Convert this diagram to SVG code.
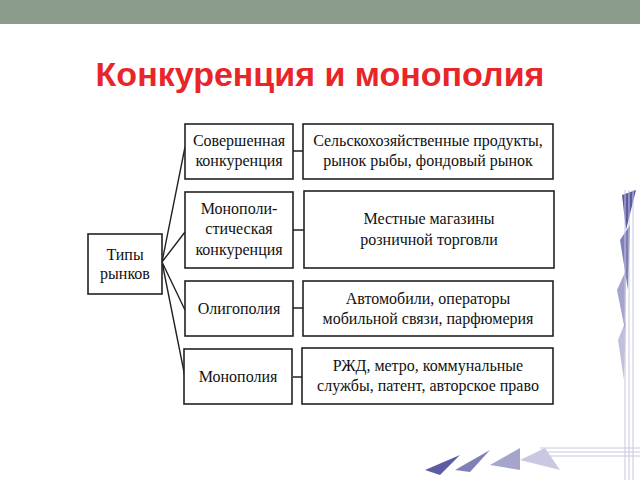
<svg xmlns="http://www.w3.org/2000/svg" width="640" height="480" viewBox="0 0 640 480">
<style>
.b{fill:#fff;stroke:#222;stroke-width:1.6}
.t{font-family:'Liberation Serif','DejaVu Serif','Times New Roman',serif;font-size:16px;fill:#111;text-anchor:middle}
.c{stroke:#222;stroke-width:1.4;fill:none}
.d{fill:#4a4a9a}
.l{stroke:#c8c8e0;stroke-width:1;fill:none}
</style>
<rect width="640" height="480" fill="#fff"/>
<rect width="640" height="24" fill="#8c9c8c"/>
<text x="320" y="86" font-family="Liberation Sans,sans-serif" font-weight="bold" font-size="34" fill="#e8262a" text-anchor="middle">Конкуренция и монополия</text>
<g id="decor">
<polygon class="d" points="622,195 636,190 626,230" opacity="0.9"/>
<polygon class="d" points="620,240 630,225 628,290" opacity="0.7"/>
<polygon class="d" points="617,290 626,270 625,330" opacity="0.5"/>
<polygon class="d" points="618,340 626,320 624,380" opacity="0.35"/>
<polygon class="d" points="425,470 460,455 440,475" opacity="0.9"/>
<polygon class="d" points="455,470 490,450 470,472" opacity="0.7"/>
<polygon class="d" points="490,465 520,448 520,470" opacity="0.5"/>
<polygon class="d" points="520,460 545,448 560,470" opacity="0.3"/>
<path class="l" d="M540,448H640M540,452H640M540,456H640M625,190V480M629,190V480M633,190V480"/>
</g>
<g id="connectors" class="c">
<path d="M162,262L185,147M162,262L185,232M162,262L185,310M162,262L185,377"/>
<path d="M293,151H303M293,230H304M293,308H303M293,377H303"/>
</g>
<g id="types"><rect class="b" x="88" y="234" width="74" height="60"/><text class="t" x="125" y="260">Типы</text><text class="t" x="125" y="279">рынков</text></g>
<g id="n1"><rect class="b" x="185" y="124" width="108" height="55"/><text class="t" x="239" y="146">Совершенная</text><text class="t" x="239" y="166">конкуренция</text></g>
<g id="n2"><rect class="b" x="185" y="192" width="108" height="76"/><text class="t" x="239" y="214">Монополи-</text><text class="t" x="239" y="234">стическая</text><text class="t" x="239" y="255">конкуренция</text></g>
<g id="n3"><rect class="b" x="185" y="281" width="108" height="55"/><text class="t" x="239" y="314">Олигополия</text></g>
<g id="n4"><rect class="b" x="184" y="349" width="108" height="55"/><text class="t" x="238" y="382">Монополия</text></g>
<g id="e1"><rect class="b" x="303" y="124" width="250" height="55"/><text class="t" x="428" y="146">Сельскохозяйственные продукты,</text><text class="t" x="428" y="166">рынок рыбы, фондовый рынок</text></g>
<g id="e2"><rect class="b" x="304" y="191" width="250" height="77"/><text class="t" x="429" y="224">Местные магазины</text><text class="t" x="429" y="245">розничной торговли</text></g>
<g id="e3"><rect class="b" x="303" y="281" width="250" height="55"/><text class="t" x="428" y="304">Автомобили, операторы</text><text class="t" x="428" y="324">мобильной связи, парфюмерия</text></g>
<g id="e4"><rect class="b" x="302" y="348" width="251" height="56"/><text class="t" x="428" y="371">РЖД, метро, коммунальные</text><text class="t" x="428" y="391">службы, патент, авторское право</text></g>
</svg>
